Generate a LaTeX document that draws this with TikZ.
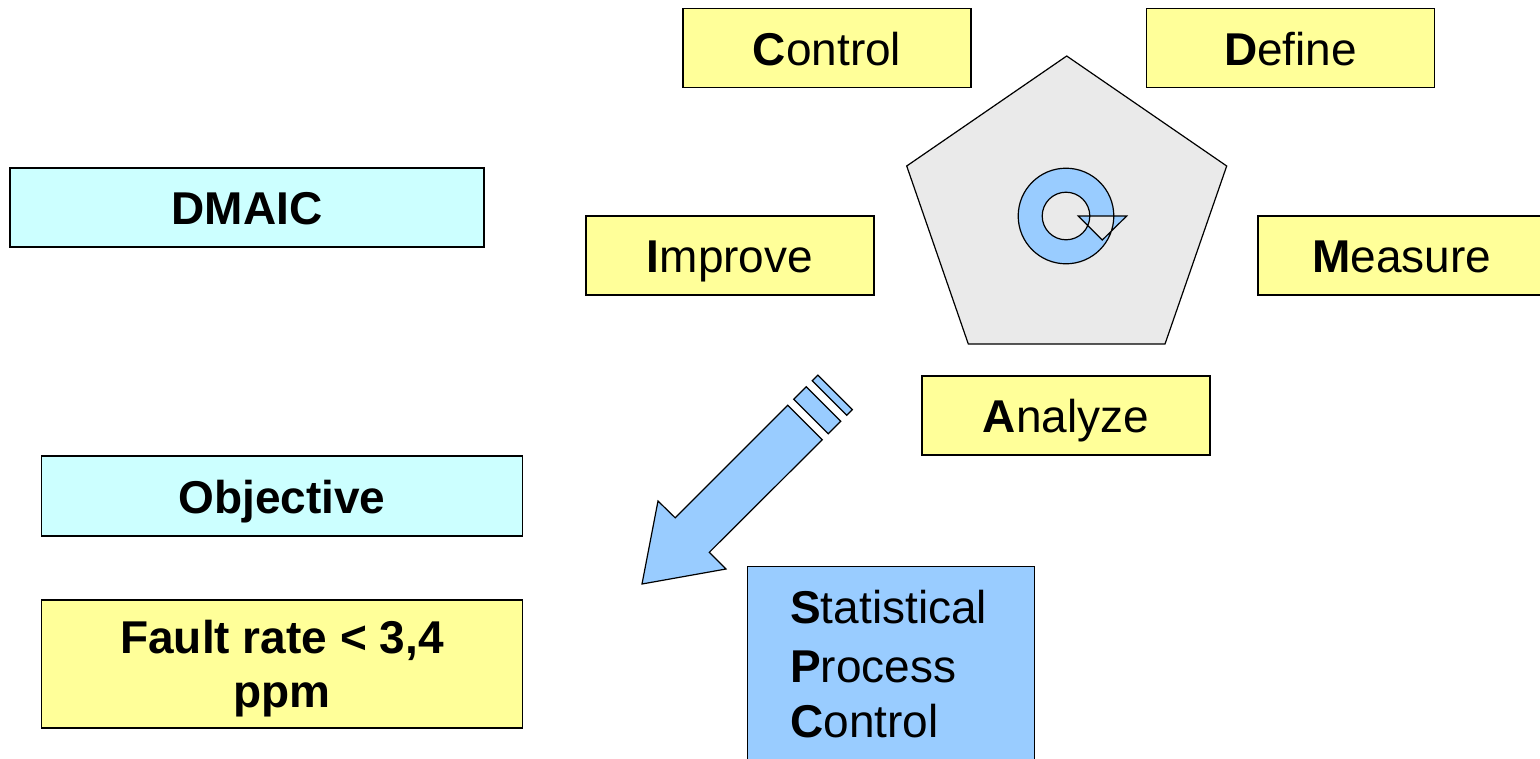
\documentclass[tikz,border=0pt]{standalone}
\usepackage{fontspec}
\setmainfont{Liberation Sans}
\definecolor{paleyellow}{HTML}{FFFF99}
\definecolor{palecyan}{HTML}{CCFFFF}
\definecolor{skyblue}{HTML}{99CCFF}
\definecolor{panelgray}{HTML}{EAEAEA}
\begin{document}
\begin{tikzpicture}[x=1pt,y=-1pt,
  lbl/.style={inner sep=0pt, font=\fontsize{46}{56}\selectfont},
  box/.style={lbl, draw=black, line width=1.2pt, rectangle,
    text height=34pt, text depth=0pt},
  phase/.style={box, fill=paleyellow, minimum width=288pt, minimum height=79pt},
  topic/.style={box, fill=palecyan, minimum height=79pt, font=\fontsize{46}{56}\selectfont\bfseries},
  outline/.style={draw=black, line width=1.2pt, line join=miter}
]
\useasboundingbox (0,0) rectangle (1540,758);

% central pentagon with the cycle symbol
\path[outline, fill=panelgray]
  (1066.7,56) -- (1226.7,166) -- (1165,344) -- (968.3,344) -- (906.7,166) -- cycle;
\coordinate (hub) at (1066,216);
\path[outline, fill=skyblue, even odd rule]
  (hub) circle[radius=47.8pt] (hub) circle[radius=23.8pt]
  (1078.3,216) -- (1126.7,216) -- (1102.3,240) -- cycle;

% DMAIC phases around the pentagon
\node[phase] (control) at (827,48)    {\textbf{C}ontrol};
\node[phase] (define)  at (1290.5,48) {\textbf{D}efine};
\node[phase] (improve) at (730,255.5) {\textbf{I}mprove};
\node[phase] (measure) at (1402,255.5){\textbf{M}easure};
\node[phase] (analyze) at (1066,415.5){\textbf{A}nalyze};

% left column
\node[topic, minimum width=474pt] (dmaic) at (247,207.5) {DMAIC};
\node[topic, minimum width=481pt, minimum height=80pt] (objective) at (282,496) {Objective};
\node[box, fill=paleyellow, minimum width=481pt, minimum height=128pt, text height=0pt]
  (fault) at (282,664) {};
\node[lbl, font=\fontsize{46}{56}\selectfont\bfseries, anchor=base] (fault1) at (282,653) {Fault rate < 3,4};
\node[lbl, font=\fontsize{46}{56}\selectfont\bfseries, anchor=base] (fault2) at (282,707) {ppm};

% statistical process control
\node[box, fill=skyblue, minimum width=287pt, minimum height=240pt, text height=0pt,
  anchor=north west] (spc) at (747,566) {};
\node[lbl, anchor=base west] (spcS) at (790,623) {\textbf{S}tatistical};
\node[lbl, anchor=base west] (spcP) at (790,682) {\textbf{P}rocess};
\node[lbl, anchor=base west] (spcC) at (790,737) {\textbf{C}ontrol};

% broad arrow pointing down-left, with two bands at its tail
\path[outline, fill=skyblue]
  (642,584) -- (726,569) -- (709.3,552.3) -- (822.25,439.75)
  -- (787.75,405.25) -- (675.2,517.8) -- (658,501) -- cycle;
\path[outline, fill=skyblue]
  (793.75,399.25) -- (828.25,433.75) -- (840.75,421.25) -- (806.25,386.75) -- cycle;
\path[outline, fill=skyblue]
  (812.25,380.75) -- (846.75,415.25) -- (852.35,409.65) -- (817.85,375.15) -- cycle;
\end{tikzpicture}
\end{document}
